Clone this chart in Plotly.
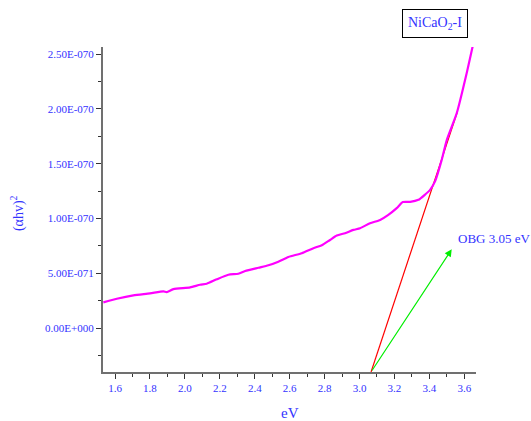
import plotly.graph_objects as go

SCALE = 1e-70
ev = [1.533, 1.610, 1.705, 1.800, 1.877, 1.896, 1.934, 2.030, 2.087, 2.125, 2.182,
      2.249, 2.306, 2.345, 2.421, 2.478, 2.535, 2.593, 2.669, 2.736, 2.784, 2.831,
      2.870, 2.917, 2.965, 3.003, 3.060, 3.118, 3.165, 3.213, 3.248, 3.290, 3.337,
      3.375, 3.404, 3.433, 3.471, 3.500, 3.557, 3.614, 3.649]
ahv2 = [0.235, 0.268, 0.299, 0.317, 0.335, 0.329, 0.356, 0.372, 0.396, 0.405, 0.445,
        0.487, 0.496, 0.521, 0.551, 0.573, 0.606, 0.649, 0.683, 0.729, 0.756, 0.804,
        0.844, 0.866, 0.896, 0.911, 0.957, 0.987, 1.033, 1.094, 1.150, 1.152, 1.170,
        1.218, 1.261, 1.341, 1.536, 1.718, 1.962, 2.328, 2.578]
fit_x = [3.066, 3.559]
fit_y = [-0.40, 1.965]
arrow_from = (3.066, -0.40)
arrow_to = (3.528, 0.719)
band_gap_label = "OBG 3.05 eV"
sample_label = "NiCaO<sub>2</sub>-I"
xticks = [1.6, 1.8, 2.0, 2.2, 2.4, 2.6, 2.8, 3.0, 3.2, 3.4, 3.6]
yticks = [0.0, 0.5, 1.0, 1.5, 2.0, 2.5]
yticktext = ["0.00E+000", "5.00E-071", "1.00E-070", "1.50E-070", "2.00E-070", "2.50E-070"]

BLUE = "#3333ff"
FONT = "Liberation Serif"

fig = go.Figure()
fig.add_trace(go.Scatter(x=fit_x, y=[v * SCALE for v in fit_y], mode="lines",
                         line=dict(color="#ff0000", width=1.2), showlegend=False))
fig.add_trace(go.Scatter(x=ev, y=[v * SCALE for v in ahv2], mode="lines",
                         line=dict(color="#ff00ff", width=2.2, shape="spline", smoothing=0.6),
                         showlegend=False))

fig.add_annotation(x=arrow_to[0], y=arrow_to[1] * SCALE, ax=arrow_from[0], ay=arrow_from[1] * SCALE,
                   xref="x", yref="y", axref="x", ayref="y", text="", showarrow=True,
                   arrowhead=2, arrowsize=1.2, arrowwidth=1.2, arrowcolor="#00ee00")
fig.add_annotation(x=3.552, y=0.814 * SCALE, xref="x", yref="y", text=band_gap_label,
                   showarrow=False, xanchor="left", yanchor="middle",
                   font=dict(family=FONT, size=13, color=BLUE))
fig.add_annotation(x=0.890, y=1.072, xref="paper", yref="paper", text=sample_label,
                   showarrow=False, xanchor="center", yanchor="middle",
                   bordercolor="black", borderwidth=1, borderpad=5, bgcolor="white",
                   font=dict(family=FONT, size=14, color=BLUE))
fig.add_annotation(x=-0.2306, y=0.489, xref="paper", yref="paper", text="(αhv)<sup>2</sup>",
                   textangle=-90, showarrow=False, xanchor="center", yanchor="middle",
                   font=dict(family=FONT, size=14, color=BLUE))
fig.add_annotation(x=0.501, y=-0.126, xref="paper", yref="paper", text="eV",
                   showarrow=False, xanchor="center", yanchor="middle",
                   font=dict(family=FONT, size=15, color=BLUE))

fig.update_xaxes(range=[1.531, 3.667], tickvals=xticks, ticktext=[f"{t:.1f}" for t in xticks],
                 ticks="outside", ticklen=5, tickwidth=1, tickcolor="#333333",
                 showline=True, linecolor="#707070", linewidth=2, showgrid=False, zeroline=False,
                 minor=dict(ticks="outside", ticklen=3, dtick=0.1, tick0=1.5, tickcolor="#333333", showgrid=False),
                 tickfont=dict(family=FONT, size=11, color=BLUE))
fig.update_yaxes(range=[-0.40 * SCALE, 2.564 * SCALE], tickvals=[v * SCALE for v in yticks], ticktext=yticktext,
                 ticks="outside", ticklen=5, tickwidth=1, tickcolor="#333333",
                 showline=True, linecolor="#707070", linewidth=2, showgrid=False, zeroline=False,
                 minor=dict(ticks="outside", ticklen=3, dtick=0.25 * SCALE, tick0=0, tickcolor="#333333", showgrid=False),
                 tickfont=dict(family=FONT, size=11, color=BLUE))

fig.update_layout(width=531, height=421, margin=dict(l=103, r=55, t=47, b=49),
                  plot_bgcolor="white", paper_bgcolor="white", showlegend=False)
# remove the browser's default 8px body margin so the figure fills the window exactly
fig.write_html("out.html", config={"displayModeBar": False},
               post_script="document.body.style.margin='0';document.body.style.overflow='hidden';")
